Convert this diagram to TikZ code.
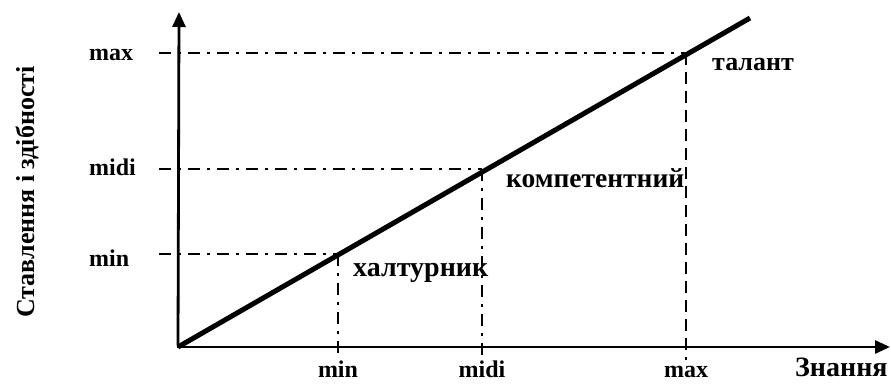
\documentclass[tikz,border=0pt]{standalone}
\usepackage{fontspec}
\setmainfont{Liberation Serif}
\usetikzlibrary{arrows.meta}
\begin{document}
\begin{tikzpicture}[x=1pt,y=-1pt,
  axis/.style={line width=2.8pt, -{Triangle[length=15pt,width=13pt]}},
  main/.style={line width=5pt},
  dashdot/.style={line width=2pt, dash pattern=on 12pt off 7pt on 3pt off 7pt},
  plaindash/.style={line width=2pt, dash pattern=on 12pt off 7pt},
  lbl/.style={inner sep=0pt, font=\bfseries\fontsize{24}{24}\selectfont},
  cat/.style={inner sep=0pt, font=\bfseries\fontsize{27.5}{27.5}\selectfont, anchor=base west}]
\useasboundingbox (0,0) rectangle (891,383);
\coordinate (O) at (178,347);
\coordinate (Ytop) at (179,12);
\coordinate (Xend) at (890,347);
\coordinate (Lend) at (750,18);
\coordinate (Pmin) at (338,254);
\coordinate (Pmid) at (482,169);
\coordinate (Pmax) at (686,53);
\coordinate (Hmin) at (159,254);
\coordinate (Hmid) at (159,169);
\coordinate (Hmax) at (159,53);
\coordinate (Vmin) at (338,358);
\coordinate (Vmid) at (482,358);
\coordinate (Vmax) at (686,360);
% guide lines
\draw[dashdot] (Hmax) -- (Pmax);
\draw[dashdot] (Hmid) -- (Pmid);
\draw[dashdot] (Hmin) -- (Pmin);
\draw[dashdot] (Pmin) -- (Vmin);
\draw[dashdot] (Pmid) -- (Vmid);
\draw[plaindash] (Pmax) -- (Vmax);
% axes
\draw[axis] ([yshift=1.4pt]O) -- (Ytop);
\draw[axis] ([xshift=-1.4pt]O) -- (Xend);
\draw[main] (O) -- (Lend);
% labels
\node[lbl, anchor=base west] (lmax) at (89,60) {max};
\node[lbl, anchor=base west] (lmid) at (89,175) {midi};
\node[lbl, anchor=base west] (lmin) at (89,266) {min};
\node[lbl, anchor=base] (bmin) at (338,377) {min};
\node[lbl, anchor=base] (bmid) at (482,377) {midi};
\node[lbl, anchor=base] (bmax) at (686,377) {max};
\node[cat, font=\bfseries\fontsize{26}{26}\selectfont] (tal) at (712,70) {талант};
\node[cat] (komp) at (506,187) {компетентний};
\node[cat, font=\bfseries\fontsize{28}{28}\selectfont] (halt) at (353,276) {халтурник};
\node[inner sep=0pt, font=\bfseries\fontsize{28}{28}\selectfont, anchor=base west] (zn) at (795,376) {Знання};
\node[inner sep=0pt, font=\bfseries\fontsize{26}{26}\selectfont, rotate=90] (st) at (27,192) {Ставлення і здібності};
\end{tikzpicture}
\end{document}
